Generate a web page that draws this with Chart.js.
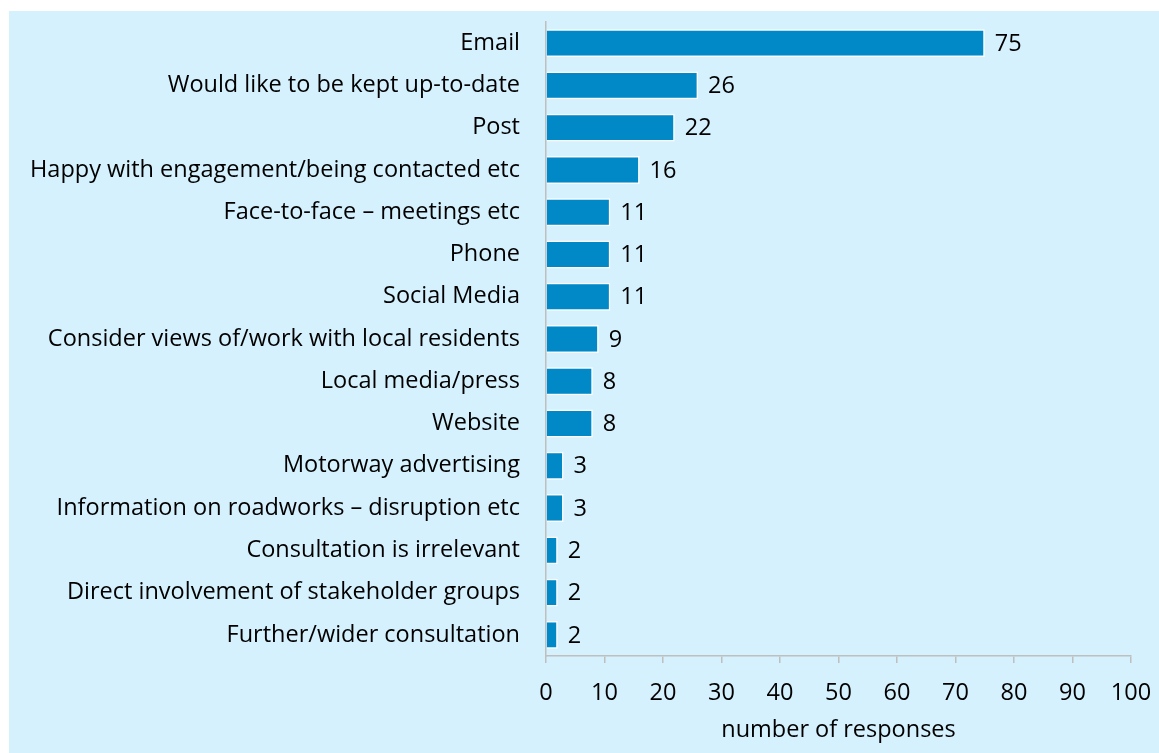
<!DOCTYPE html>
<html>
<head>
<meta charset="utf-8">
<script src="https://cdn.jsdelivr.net/npm/chart.js@4/dist/chart.umd.min.js"></script>
<style>
  body { margin: 0; background: #ffffff; }
  #panel {
    position: absolute;
    left: 9px;
    top: 11px;
    width: 1150px;
    height: 742px;
    background: #d5f1fd;
  }
</style>
</head>
<body>
<div id="panel">
  <canvas id="bar-chart" width="1150" height="742"></canvas>
</div>
<script>
// categories and counts
const categories = [
  'Email',
  'Would like to be kept up-to-date',
  'Post',
  'Happy with engagement/being contacted etc',
  'Face-to-face \u2013 meetings etc',
  'Phone',
  'Social Media',
  'Consider views of/work with local residents',
  'Local media/press',
  'Website',
  'Motorway advertising',
  'Information on roadworks \u2013 disruption etc',
  'Consultation is irrelevant',
  'Direct involvement of stakeholder groups',
  'Further/wider consultation'
];
const responses = [75, 26, 22, 16, 11, 11, 11, 9, 8, 8, 3, 3, 2, 2, 2];
const xTicks = [0, 10, 20, 30, 40, 50, 60, 70, 80, 90, 100];

const FONT = "'Open Sans', sans-serif";
const FONT_SIZE = 23.5;

// writes the count just after the end of each bar
const valueLabels = {
  id: 'valueLabels',
  afterDatasetsDraw(chart) {
    const ctx = chart.ctx;
    const meta = chart.getDatasetMeta(0);
    ctx.save();
    ctx.font = FONT_SIZE + 'px ' + FONT;
    ctx.fillStyle = '#000000';
    ctx.textAlign = 'left';
    ctx.textBaseline = 'middle';
    meta.data.forEach((bar, i) => {
      ctx.fillText(String(responses[i]), bar.x + 10, bar.y + 1);
    });
    ctx.restore();
  }
};

const data = {
  labels: categories,
  datasets: [
    {
      label: 'number of responses',
      data: responses,
      backgroundColor: '#0088c7',
      borderColor: '#ffffff',
      borderWidth: 1.5,
      barPercentage: 0.66,
      categoryPercentage: 1
    }
  ]
};

const options = {
  indexAxis: 'y',
  responsive: false,
  animation: false,
  layout: {
    padding: { top: 11, right: 28, bottom: 0, left: 0 }
  },
  plugins: {
    legend: { display: false },
    tooltip: { enabled: false }
  },
  scales: {
    x: {
      min: 0,
      max: 100,
      afterBuildTicks: (scale) => {
        scale.ticks = xTicks.map(v => ({ value: v }));
      },
      afterFit: (scale) => {
        scale.height = 97;
        scale.paddingLeft = 0;
        scale.paddingRight = 0;
      },
      grid: {
        drawOnChartArea: false,
        drawTicks: true,
        tickLength: 7,
        color: '#bfbfbf',
        lineWidth: 1.5
      },
      border: { display: true, color: '#bfbfbf', width: 1.5 },
      ticks: {
        color: '#000000',
        padding: 16,
        maxRotation: 0,
        font: { family: FONT, size: FONT_SIZE }
      },
      title: {
        display: true,
        text: 'number of responses',
        color: '#000000',
        padding: { top: 4, bottom: 9 },
        font: { family: FONT, size: FONT_SIZE }
      }
    },
    y: {
      afterFit: (scale) => {
        scale.width = 537;
        scale.paddingTop = 0;
        scale.paddingBottom = 0;
      },
      grid: {
        drawOnChartArea: false,
        drawTicks: false
      },
      border: { display: true, color: '#bfbfbf', width: 1.5 },
      ticks: {
        color: '#000000',
        padding: 26,
        autoSkip: false,
        font: { family: FONT, size: FONT_SIZE }
      }
    }
  }
};

const barCtx = document.getElementById('bar-chart').getContext('2d');
new Chart(barCtx, {
  type: 'bar',
  data: data,
  options: options,
  plugins: [valueLabels]
});
</script>
</body>
</html>
